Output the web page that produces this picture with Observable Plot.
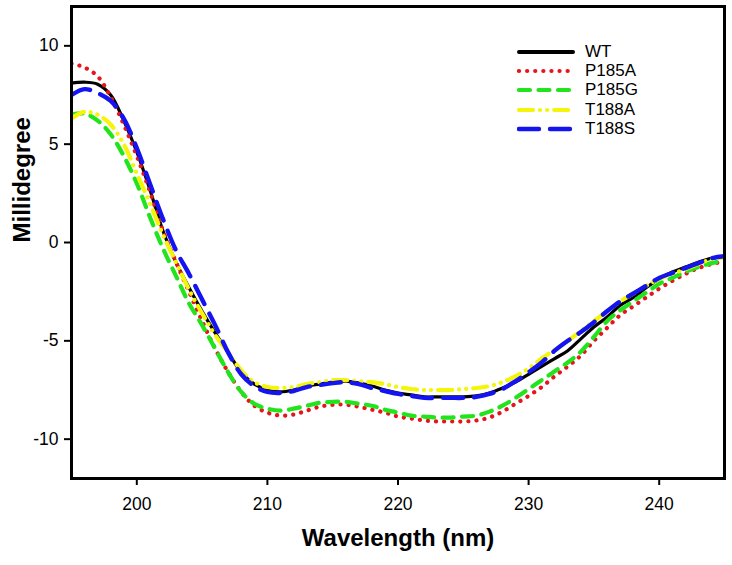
<!DOCTYPE html>
<html><head><meta charset="utf-8">
<script src="https://cdn.jsdelivr.net/npm/d3@7"></script>
<script src="https://cdn.jsdelivr.net/npm/@observablehq/plot@0.6"></script>
<style>
body{margin:0;background:#fff;}
#wrap{position:relative;width:732px;height:565px;font-family:"Liberation Sans",Arial,sans-serif;}
#legend{position:absolute;left:517px;top:42px;}
.row{display:flex;align-items:center;height:19.3px;font-size:17px;color:#000;}
.row svg{width:58px;height:10px;margin-right:10px;}
</style></head><body><div id="wrap"></div>
<script>
const wavelength = d3.range(195, 246, 1);
const seriesNames = ["WT", "P185A", "P185G", "T188A", "T188S"];
const WT = [8.1,8.15,8.05,7.5,6.2,4.6,2.7,0.6,-1.0,-2.3,
  -3.5,-4.6,-5.6,-6.6,-7.2,-7.5,-7.6,-7.5,-7.3,-7.2,
  -7.1,-7.05,-7.15,-7.3,-7.5,-7.65,-7.75,-7.85,-7.85,-7.85,
  -7.85,-7.8,-7.65,-7.4,-7.1,-6.7,-6.3,-5.9,-5.5,-4.9,
  -4.3,-3.8,-3.2,-2.8,-2.3,-1.85,-1.5,-1.25,-1.0,-0.8,-0.7];
const P185A = [9.1,8.9,8.45,7.4,6.0,4.4,2.6,0.6,-1.0,-2.5,
  -4.0,-5.4,-6.6,-7.6,-8.3,-8.65,-8.8,-8.75,-8.55,-8.35,
  -8.25,-8.25,-8.35,-8.5,-8.65,-8.85,-8.95,-9.05,-9.1,-9.1,
  -9.1,-9.05,-8.9,-8.6,-8.2,-7.8,-7.35,-6.8,-6.3,-5.75,
  -5.0,-4.35,-3.7,-3.25,-2.8,-2.35,-1.95,-1.6,-1.3,-1.1,-0.95];
const P185G = [6.5,6.55,6.2,5.5,4.4,3.0,1.3,-0.3,-1.7,-3.1,
  -4.2,-5.4,-6.6,-7.6,-8.2,-8.45,-8.55,-8.45,-8.3,-8.15,
  -8.1,-8.1,-8.2,-8.3,-8.5,-8.65,-8.8,-8.85,-8.9,-8.9,
  -8.85,-8.8,-8.6,-8.3,-7.9,-7.45,-7.0,-6.55,-6.1,-5.55,
  -4.8,-4.0,-3.45,-3.0,-2.55,-2.1,-1.8,-1.5,-1.25,-1.05,-0.9];
const T188A = [6.3,6.65,6.5,6.0,5.0,3.5,2.0,0.4,-1.0,-2.4,
  -3.6,-4.7,-5.6,-6.5,-7.1,-7.35,-7.4,-7.35,-7.2,-7.1,
  -7.0,-7.0,-7.05,-7.1,-7.2,-7.35,-7.45,-7.5,-7.5,-7.5,
  -7.45,-7.4,-7.3,-7.1,-6.8,-6.4,-5.9,-5.45,-5.0,-4.5,
  -4.0,-3.5,-3.0,-2.6,-2.2,-1.85,-1.6,-1.35,-1.1,-0.85,-0.75];
const T188S = [7.5,7.8,7.6,7.2,6.3,4.8,3.0,1.2,-0.4,-1.6,
  -2.9,-4.2,-5.6,-6.7,-7.3,-7.6,-7.65,-7.55,-7.35,-7.25,
  -7.15,-7.1,-7.2,-7.4,-7.55,-7.7,-7.8,-7.9,-7.9,-7.9,
  -7.9,-7.85,-7.7,-7.45,-7.05,-6.6,-6.1,-5.5,-5.0,-4.55,
  -4.05,-3.5,-3.0,-2.6,-2.2,-1.8,-1.55,-1.3,-1.05,-0.8,-0.7];
const xTicks = [200, 210, 220, 230, 240];
const yTicks = [-10, -5, 0, 5, 10];

const values = {WT, P185A, P185G, T188A, T188S};
const styles = {
  WT:    {stroke: "#000000", strokeWidth: 3.2, dash: null, cap: "round"},
  P185A: {stroke: "#e8141c", strokeWidth: 4.2, dash: "0.1 8", cap: "round"},
  P185G: {stroke: "#22e41c", strokeWidth: 4.2, dash: "11 8.5", cap: "round"},
  T188A: {stroke: "#f5f50a", strokeWidth: 4.2, dash: "14 7 0.1 7 0.1 7", cap: "round"},
  T188S: {stroke: "#1414f0", strokeWidth: 4.4, dash: "20 11", cap: "round"}
};
const table = seriesNames.flatMap(name => wavelength.map((w, i) => ({name, w, v: values[name][i]})));

const marks = [];
for (const name of seriesNames) {
  const s = styles[name];
  marks.push(Plot.line(table.filter(d => d.name === name), {
    x: "w", y: "v", stroke: s.stroke, strokeWidth: s.strokeWidth,
    strokeDasharray: s.dash, strokeLinecap: s.cap, curve: "catmull-rom", clip: true
  }));
}

const chart = Plot.plot({
  width: 732, height: 565,
  marginLeft: 71, marginRight: 8, marginTop: 6, marginBottom: 87,
  style: {fontFamily: '"Liberation Sans", Arial, sans-serif', background: "#fff", color: "#000"},
  x: {domain: [195, 245]},
  y: {domain: [-12, 12]},
  marks: [
    ...marks,
    Plot.frame({stroke: "#000", strokeWidth: 3}),
    Plot.axisX({ticks: xTicks, tickSize: 7, tickPadding: 12, fontSize: 17.5, strokeWidth: 2, label: null, tickFormat: d => String(d)}),
    Plot.axisY({ticks: yTicks, tickSize: 7, tickPadding: 6, fontSize: 17.5, strokeWidth: 2, label: null, tickFormat: d => String(d)}),
    Plot.text(["Wavelength (nm)"], {frameAnchor: "bottom", dy: 67, fontSize: 24, fontWeight: "bold", text: d => d}),
    Plot.text(["Millidegree"], {frameAnchor: "left", dx: -49, rotate: -90, fontSize: 24, fontWeight: "bold", text: d => d})
  ]
});
const wrap = document.getElementById("wrap");
wrap.appendChild(chart);

const legend = document.createElement("div");
legend.id = "legend";
for (const name of seriesNames) {
  const s = styles[name];
  const row = document.createElement("div");
  row.className = "row";
  row.innerHTML = `<svg viewBox="0 0 58 10"><line x1="2" y1="5" x2="56" y2="5" stroke="${s.stroke}" stroke-width="${s.strokeWidth + (name==='WT'?0.8:0)}" ${s.dash ? `stroke-dasharray="${s.dash}"` : ""} stroke-linecap="${s.cap}"/></svg><span>${name}</span>`;
  legend.appendChild(row);
}
wrap.appendChild(legend);
</script></body></html>
